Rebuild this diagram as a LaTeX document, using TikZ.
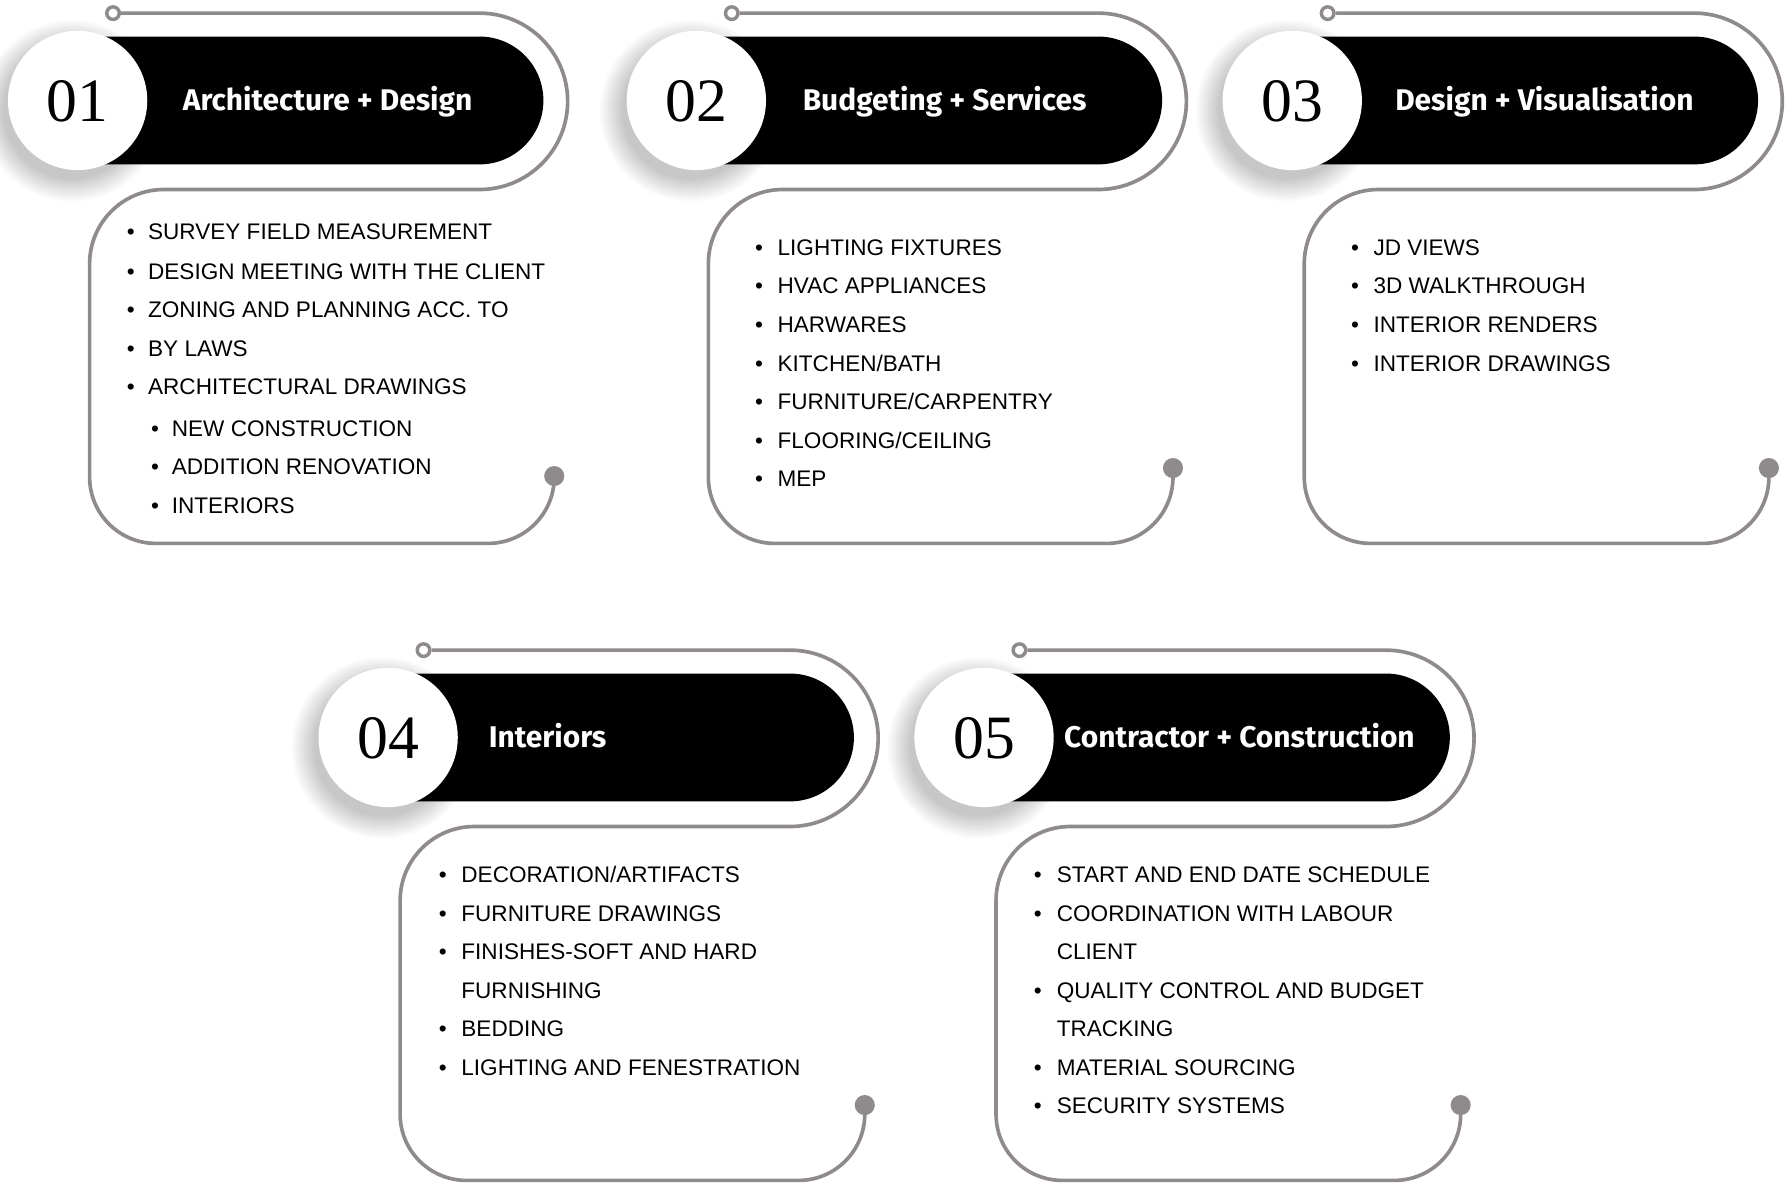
\documentclass[tikz,border=0pt]{standalone}
\usepackage{fontspec}
\setmainfont{Liberation Sans}
\newfontfamily\ttlfont{Fira Sans}
\newfontfamily\numfont{Liberation Serif}
\definecolor{track}{RGB}{143,139,140}
\tikzset{
 trackline/.style={draw=track, line width=3.2pt},
 ring/.style={circle, draw=track, fill=white, line width=3pt, minimum size=11pt, inner sep=0pt},
 enddot/.style={circle, fill=track, minimum size=17.6pt, inner sep=0pt},
 pill/.style={fill=black},
 softshade/.style={fill=black, fill opacity=0.014},
 numdisc/.style={circle, fill=white, minimum size=122pt, inner sep=0pt},
 numtxt/.style={font=\numfont\fontsize{54}{54}\selectfont, inner sep=0pt},
 ttl/.style={font=\ttlfont\bfseries\fontsize{26.2}{26}\selectfont, text=white, inner sep=0pt, anchor=base west},
 bul/.style={font=\fontsize{19.75}{24}\selectfont, inner sep=0pt, anchor=base},
 itm/.style={font=\fontsize{19.75}{24}\selectfont, inner sep=0pt, anchor=base west},
}
% #1 name, #2 cx, #3 cy, #4 number, #5 title, #6 title x, #7 dot y (local)
\newcommand\drawcard[7]{%
 \begin{scope}[shift={(#2,-#3)}]
  \node[ring] (#1-ring) at (31,76.5) {};
  \draw[trackline] (#1-ring.east) -- (352,76.5)
     arc[start angle=90,end angle=-90,radius=77.25] -- (75.5,-78)
     arc[start angle=90,end angle=180,radius=65] -- (10.5,-330)
     arc[start angle=180,end angle=270,radius=58] -- (359.5,-388)
     arc[start angle=-90,end angle=0,radius=58] -- (417.5,#7) node[enddot] (#1-dot) {};
  \fill[pill] (0,56) -- (352,56) arc[start angle=90,end angle=-90,radius=56] -- (0,-56) -- cycle;
  \foreach \k in {0,...,13}{\fill[softshade] (-5,-9) circle[radius=60+1.5*\k];}
  \node[numdisc] (#1-disc) at (0,0) {};
  \node[numtxt] (#1-num) at (0,-0.5) {#4};
  \node[ttl] (#1-title) at (#6,-8.6) {#5};
 \end{scope}}
\newcommand\itm[5]{\node[bul] (#1b) at (#2,-#4) {•}; \node[itm] (#1) at (#3,-#4) {#5};}
\newcommand\cnt[4]{\node[itm] (#1) at (#2,-#3) {#4};}
\begin{document}
\begin{tikzpicture}[x=1pt,y=1pt]
\useasboundingbox[fill=white] (0,0) rectangle (1568,-1042);
\drawcard{c1}{68}{88}{01}{Architecture + Design}{92}{-329}
\drawcard{c2}{610}{88}{02}{Budgeting + Services}{93}{-322}
\drawcard{c3}{1132}{88}{03}{Design + Visualisation}{90}{-322}
\drawcard{c4}{340}{646}{04}{Interiors}{88}{-322}
\drawcard{c5}{862}{646}{05}{Contractor + Construction}{70}{-322}
% card 1
\itm{a1}{114.5}{129.6}{210.2}{SURVEY FIELD MEASUREMENT}
\itm{a2}{114.5}{129.6}{244.4}{DESIGN MEETING WITH THE CLIENT}
\itm{a3}{114.5}{129.6}{278.3}{ZONING AND PLANNING ACC. TO}
\itm{a4}{114.5}{129.6}{312.4}{BY LAWS}
\itm{a5}{114.5}{129.6}{346}{ARCHITECTURAL DRAWINGS}
\itm{a6}{135.8}{150.4}{382.5}{NEW CONSTRUCTION}
\itm{a7}{135.8}{150.4}{416}{ADDITION RENOVATION}
\itm{a8}{135.8}{150.4}{449.7}{INTERIORS}
% card 2
\itm{b1}{665}{681}{223.4}{LIGHTING FIXTURES}
\itm{b2}{665}{681}{257.5}{HVAC APPLIANCES}
\itm{b3}{665}{681}{291.4}{HARWARES}
\itm{b4}{665}{681}{325.6}{KITCHEN/BATH}
\itm{b5}{665}{681}{359.1}{FURNITURE/CARPENTRY}
\itm{b6}{665}{681}{392.7}{FLOORING/CEILING}
\itm{b7}{665}{681}{426.3}{MEP}
% card 3
\itm{d1}{1187}{1203}{223.4}{JD VIEWS}
\itm{d2}{1187}{1203}{257.5}{3D WALKTHROUGH}
\itm{d3}{1187}{1203}{291.4}{INTERIOR RENDERS}
\itm{d4}{1187}{1203}{325.6}{INTERIOR DRAWINGS}
% card 4
\itm{e1}{388}{404}{773.2}{DECORATION/ARTIFACTS}
\itm{e2}{388}{404}{806.8}{FURNITURE DRAWINGS}
\itm{e3}{388}{404}{840.3}{FINISHES-SOFT AND HARD}
\cnt{e3c}{404}{874.5}{FURNISHING}
\itm{e4}{388}{404}{907.5}{BEDDING}
\itm{e5}{388}{404}{941.7}{LIGHTING AND FENESTRATION}
% card 5
\itm{f1}{909}{925.6}{773.2}{START AND END DATE SCHEDULE}
\itm{f2}{909}{925.6}{806.8}{COORDINATION WITH LABOUR}
\cnt{f2c}{925.6}{840.3}{CLIENT}
\itm{f3}{909}{925.6}{874.5}{QUALITY CONTROL AND BUDGET}
\cnt{f3c}{925.6}{907.5}{TRACKING}
\itm{f4}{909}{925.6}{941.7}{MATERIAL SOURCING}
\itm{f5}{909}{925.6}{975.2}{SECURITY SYSTEMS}
\end{tikzpicture}
\end{document}
